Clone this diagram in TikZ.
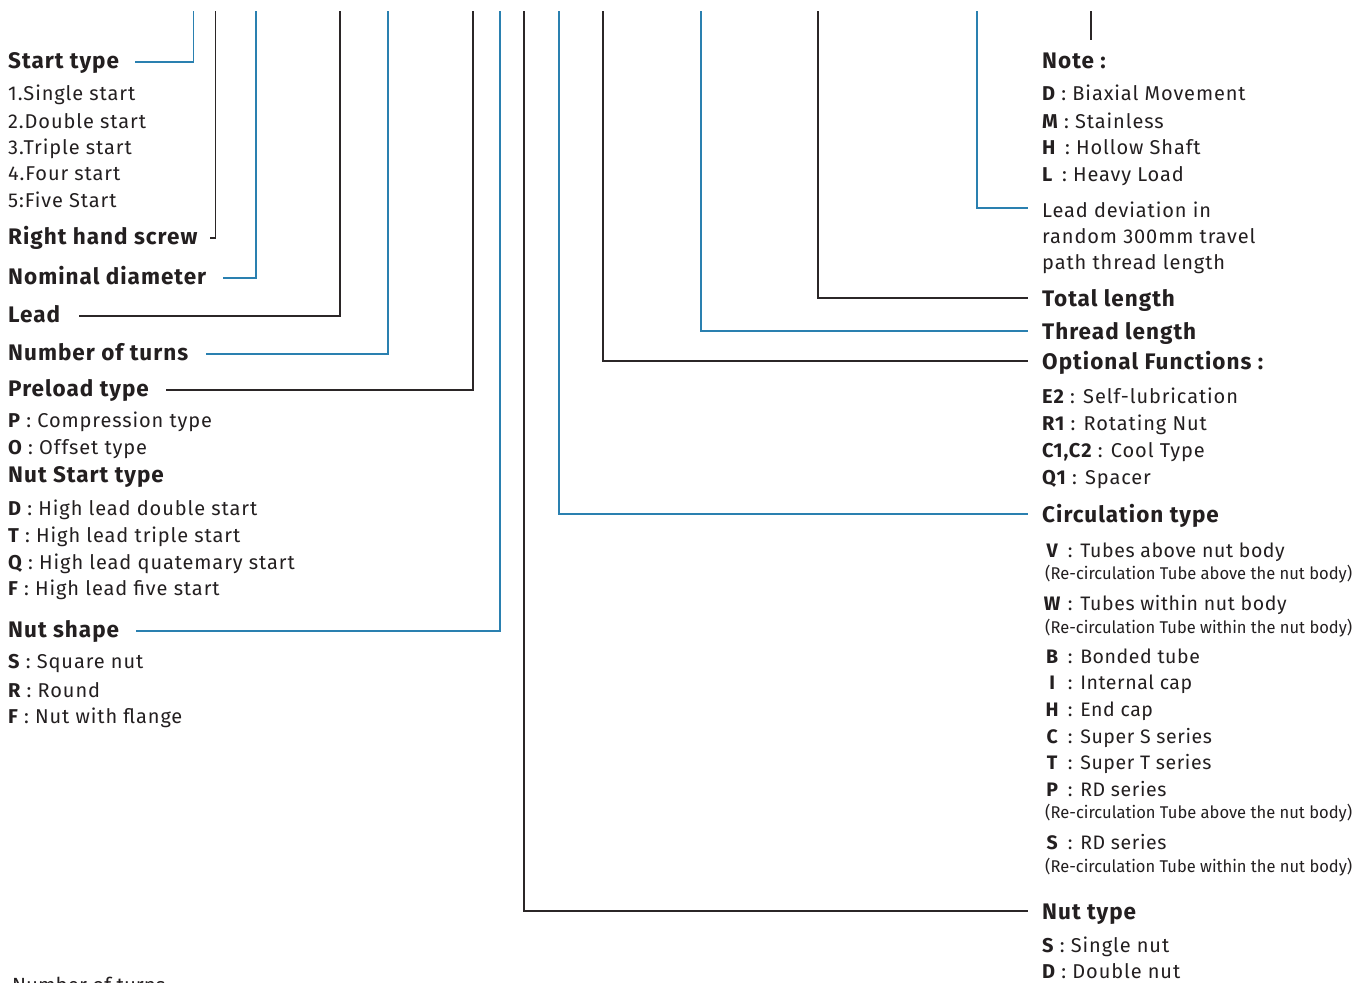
\documentclass[tikz,border=0pt]{standalone}
\usepackage{fontspec}
\usepackage{graphicx}
\setmainfont{Fira Sans}[LetterSpace=4.5]
\newfontfamily\condf{Fira Sans}[LetterSpace=0]
\newfontfamily\clf{Fira Sans}[LetterSpace=3]
\definecolor{ink}{HTML}{231F20}
\definecolor{lblue}{HTML}{2A80B0}
\definecolor{lgray}{HTML}{2B2627}
\newcommand{\kb}[1]{{\bfseries #1}}
\newcommand{\ck}[1]{\makebox[20pt][c]{\bfseries #1}}
\newcommand{\rec}[1]{\resizebox{307pt}{\height}{\condf\fontsize{17}{20}\selectfont #1}}
\tikzset{
  hfont/.style={font=\fontsize{22.5}{26}\selectfont\bfseries},
  bfont/.style={font=\fontsize{20}{24}\selectfont},
  lhd/.style={hfont, anchor=west, inner sep=0pt, text=ink, text height=13pt, text depth=0pt},
  rhd/.style={hfont, anchor=west, inner sep=0pt, text=ink, text height=16pt, text depth=0pt},
  hdb/.style={hfont, anchor=base west, inner sep=0pt, text=ink},
  bd/.style={bfont, anchor=base west, inner sep=0pt, text=ink},
  cl/.style={font=\clf\fontsize{19.5}{24}\selectfont, anchor=base west, inner sep=0pt, text=ink},
  bdc/.style={bfont, anchor=west, inner sep=0pt, text=ink, text height=18pt, text depth=0pt},
  rc/.style={anchor=base west, inner sep=0pt, text=ink},
  bl/.style={draw=lblue, line width=1.5pt},
  bk/.style={draw=lgray, line width=1.5pt},
}
\begin{document}
\begin{tikzpicture}[x=1pt,y=-1pt]
\useasboundingbox (0,0) rectangle (1369,983);
% ---------- left column ----------
\node[lhd] (start) at (8,62) {Start type};
\node[bd] (s1) at (8,100) {1.Single start};
\node[bd] (s2) at (8,128) {2.Double start};
\node[bd] (s3) at (8,154) {3.Triple start};
\node[bd] (s4) at (8,180) {4.Four start};
\node[bd] (s5) at (8,207) {5:Five Start};
\node[lhd] (rhs) at (8,238) {Right hand screw};
\node[lhd] (nom) at (8,278) {Nominal diameter};
\node[lhd] (lead) at (8,316) {Lead};
\node[lhd] (turns) at (8,354) {Number of turns};
\node[lhd] (preload) at (8,390) {Preload type};
\node[bd] (p1) at (8,427) {\kb{P} : Compression type};
\node[bd] (p2) at (8,454) {\kb{O} : Offset type};
\node[hdb] (nst) at (8,482) {Nut Start type};
\node[bd] (n1) at (8,515) {\kb{D} : High lead double start};
\node[bd] (n2) at (8,542) {\kb{T} : High lead triple start};
\node[bd] (n3) at (8,569) {\kb{Q} : High lead quatemary start};
\node[bd] (n4) at (8,595) {\kb{F} : High lead five start};
\node[lhd] (shape) at (8,631) {Nut shape};
\node[bd] (sh1) at (8,668) {\kb{S} : Square nut};
\node[bd] (sh2) at (8,697) {\kb{R} : Round};
\node[bd] (sh3) at (8,723) {\kb{F} : Nut with flange};
\node[rc, font=\condf\fontsize{20.5}{22}\selectfont] (cut) at (12,992) {Number of turns};
% ---------- right column ----------
\node[hdb] (note) at (1042,68) {Note :};
\node[bd] (nt1) at (1042,100) {\kb{D} : Biaxial Movement};
\node[bd] (nt2) at (1042,128) {\kb{M} : Stainless};
\node[bd] (nt3) at (1042,154) {\kb{H}\, : Hollow Shaft};
\node[bd] (nt4) at (1042,181) {\kb{L}\, : Heavy Load};
\node[bdc] (ld1) at (1042,208) {Lead deviation in};
\node[bd] (ld2) at (1042,243) {random 300mm travel};
\node[bd] (ld3) at (1042,269) {path thread length};
\node[rhd] (total) at (1042,298) {Total length};
\node[rhd] (thread) at (1042,331) {Thread length};
\node[rhd] (opt) at (1042,361) {Optional Functions :};
\node[bd] (o1) at (1042,403) {\kb{E2} : Self-lubrication};
\node[bd] (o2) at (1042,430) {\kb{R1} : Rotating Nut};
\node[bd] (o3) at (1042,457) {\kb{C1,C2} : Cool Type};
\node[bd] (o4) at (1042,484) {\kb{Q1} : Spacer};
\node[rhd] (circ) at (1042,514) {Circulation type};
\node[cl] (c1) at (1042,557) {\ck{V} : Tubes above nut body};
\node[rc] (c1r) at (1045,579) {\rec{(Re-circulation Tube above the nut body)}};
\node[cl] (c2) at (1042,610) {\ck{W} : Tubes within nut body};
\node[rc] (c2r) at (1045,633) {\rec{(Re-circulation Tube within the nut body)}};
\node[cl] (c3) at (1042,663) {\ck{B} : Bonded tube};
\node[cl] (c4) at (1042,689) {\ck{I} : Internal cap};
\node[cl] (c5) at (1042,716) {\ck{H} : End cap};
\node[cl] (c6) at (1042,743) {\ck{C} : Super S series};
\node[cl] (c7) at (1042,769) {\ck{T} : Super T series};
\node[cl] (c8) at (1042,796) {\ck{P} : RD series};
\node[rc] (c8r) at (1045,818) {\rec{(Re-circulation Tube above the nut body)}};
\node[cl] (c9) at (1042,849) {\ck{S} : RD series};
\node[rc] (c9r) at (1045,872) {\rec{(Re-circulation Tube within the nut body)}};
\node[rhd] (nuttype) at (1042,911) {Nut type};
\node[bd] (nu1) at (1042,952) {\kb{S} : Single nut};
\node[bd] (nu2) at (1042,978) {\kb{D} : Double nut};
% ---------- connector ends ----------
\foreach \n/\x in {a/193.5,b/215.5,c/256,d/340,e/388,f/473,g/500,h/524,i/559,j/603,k/701,l/818,m/977,n/1091}
  \coordinate (t\n) at (\x,11);
\coordinate (xa) at (135,0);
\coordinate (xb) at (210,0);
\coordinate (xc) at (223,0);
\coordinate (xd) at (79,0);
\coordinate (xe) at (206,0);
\coordinate (xf) at (166,0);
\coordinate (xg) at (136,0);
\coordinate (xr) at (1028,0);
\coordinate (nb) at (1091,40);
% ---------- connectors ----------
\draw[bl] (ta) |- (start -| xa);
\draw[bk] (tb) |- (rhs -| xb);
\draw[bl] (tc) |- (nom -| xc);
\draw[bk] (td) |- (lead -| xd);
\draw[bl] (te) |- (turns -| xe);
\draw[bk] (tf) |- (preload -| xf);
\draw[bl] (tg) |- (shape -| xg);
\draw[bk] (th) |- (nuttype -| xr);
\draw[bl] (ti) |- (circ -| xr);
\draw[bk] (tj) |- (opt -| xr);
\draw[bl] (tk) |- (thread -| xr);
\draw[bk] (tl) |- (total -| xr);
\draw[bl] (tm) |- (ld1 -| xr);
\draw[bk] (tn) -- (nb);
\end{tikzpicture}
\end{document}
